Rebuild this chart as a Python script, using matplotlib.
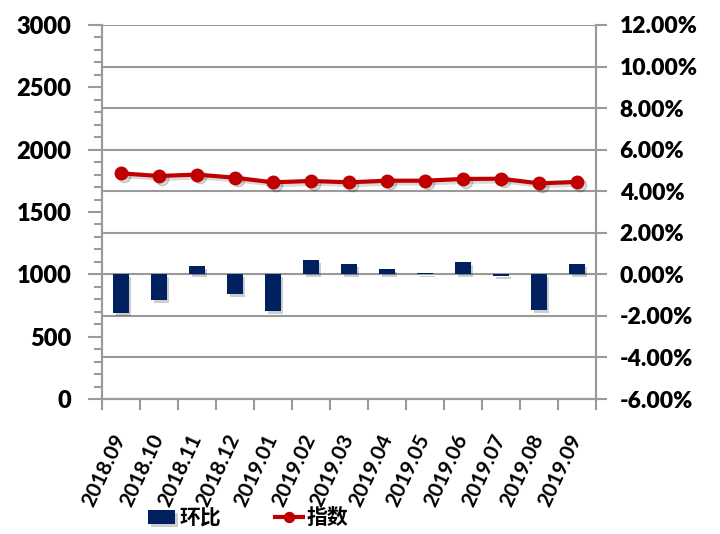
import numpy as np
import matplotlib
matplotlib.use('Agg')
import matplotlib.pyplot as plt
import matplotlib.patheffects as pe
import matplotlib.transforms as mtransforms
from matplotlib.ticker import MultipleLocator, FuncFormatter

months = ['2018.09', '2018.10', '2018.11', '2018.12', '2019.01', '2019.02',
          '2019.03', '2019.04', '2019.05', '2019.06', '2019.07', '2019.08',
          '2019.09']
index_values = [1810, 1789, 1800, 1775, 1738, 1749, 1738, 1751, 1751, 1765,
                1767, 1730, 1741]
mom_pct = [-1.86, -1.24, 0.38, -0.95, -1.78, 0.67, 0.51, 0.24, 0.05, 0.58,
           -0.10, -1.72, 0.51]

plt.rcParams['font.family'] = ['Lato', 'Noto Sans CJK SC', 'DejaVu Sans']

grey = '#9a9a9a'
navy = '#002060'
red = '#c00000'
wt = 'heavy'

fig = plt.figure(figsize=(7.2, 5.34), dpi=100)
ax_r = fig.add_axes([0.1417, 0.2528, 0.686, 0.7004])
ax_l = ax_r.twinx()
# index axis on the left, percent axis on the right
ax_l.yaxis.tick_left()
ax_r.yaxis.tick_right()
ax_l.set_zorder(ax_r.get_zorder() + 1)
ax_l.patch.set_visible(False)

x = np.arange(len(months))

bars = ax_r.bar(x, mom_pct, width=0.4, color=navy, zorder=3)
for b in bars:
    b.set_path_effects([pe.SimplePatchShadow(offset=(2, -2), alpha=0.2),
                        pe.Normal()])

# soft drop shadow under the index line
shadow = mtransforms.offset_copy(ax_l.transData, fig=fig, x=2, y=-2,
                                 units='points')
ax_l.plot(x, index_values, color='k', alpha=0.15, lw=3, marker='o', ms=9,
          transform=shadow)
line, = ax_l.plot(x, index_values, color=red, lw=3, marker='o', ms=9)

ax_r.set_ylim(-6, 12)
ax_r.yaxis.set_major_locator(MultipleLocator(2))
ax_r.yaxis.set_major_formatter(FuncFormatter(lambda v, p: '{:.2f}%'.format(v)))
ax_r.grid(axis='y', color=grey, lw=1.5)
ax_r.set_axisbelow(True)

ax_l.set_ylim(0, 3000)
ax_l.yaxis.set_major_locator(MultipleLocator(500))
ax_l.yaxis.set_minor_locator(MultipleLocator(100))

ax_r.set_xlim(-0.5, len(months) - 0.5)
ax_r.set_xticks(np.arange(len(months) + 1) - 0.5, minor=False)
ax_r.set_xticklabels([])
ax_r.set_xticks(x, minor=True)
ax_r.set_xticklabels(months, minor=True, rotation=65, ha='right',
                     va='center', rotation_mode='anchor', fontsize=15,
                     fontweight='bold')
ax_r.tick_params(axis='x', which='minor', length=0, pad=26)
ax_r.tick_params(axis='x', which='major', length=8, width=1.5, color=grey)

ax_l.tick_params(axis='y', which='major', length=10, width=1.5, color=grey,
                 labelsize=17, pad=12)
ax_l.tick_params(axis='y', which='minor', length=6, width=1.5, color=grey)
ax_r.tick_params(axis='y', which='major', length=8, width=1.5, color=grey,
                 labelsize=16.5, pad=9)
for lab in ax_l.get_yticklabels() + ax_r.get_yticklabels():
    lab.set_fontweight(wt)

for a in (ax_l, ax_r):
    for s in a.spines.values():
        s.set_color(grey)
        s.set_linewidth(1.5)
    a.spines['top'].set_visible(False)

leg = fig.legend([bars, line], ['环比', '指数'], loc='center',
                 bbox_to_anchor=(0.345, 0.03), ncol=2, frameon=False,
                 prop={'family': ['Noto Sans CJK SC'], 'size': 15,
                       'weight': 'bold'},
                 handlelength=1.3, columnspacing=2.6, handletextpad=0.2,
                 markerscale=0.8)

fig.savefig('out.png', dpi=100)
